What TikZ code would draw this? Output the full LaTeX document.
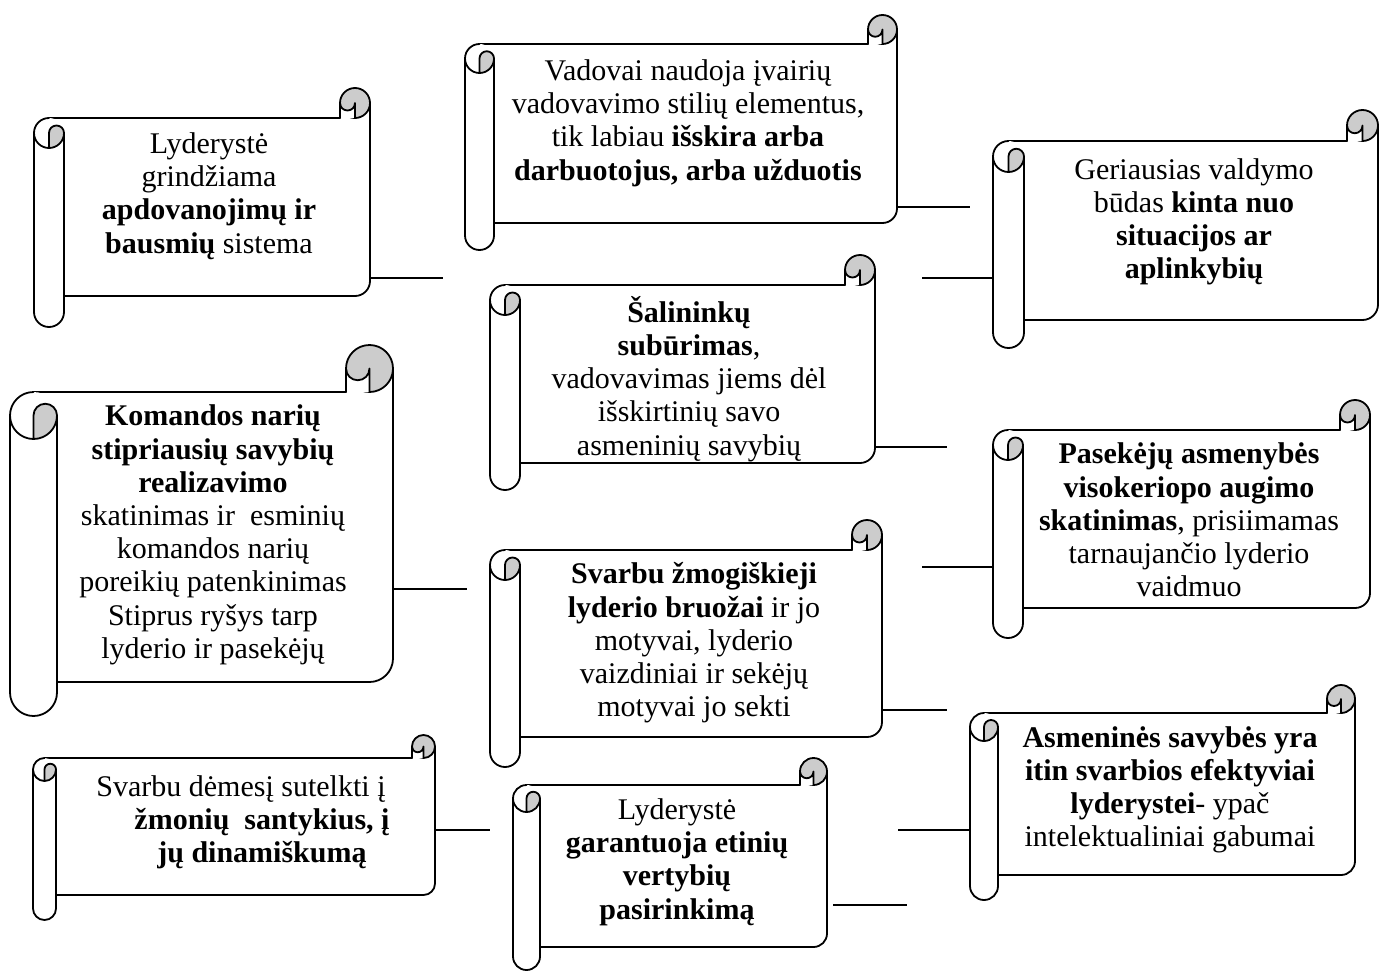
\documentclass[tikz,border=0pt]{standalone}
\usepackage{fontspec}
\setmainfont{Liberation Serif}
\definecolor{curlgray}{RGB}{204,204,204}
\tikzset{
  outline/.style={line width=1.8pt, line join=round, line cap=round},
  scrollbox/.style={draw=none, inner sep=0pt, outer sep=0pt},
  lbl/.style={inner sep=0pt, align=center, font=\fontsize{30}{33.2}\selectfont},
  link/.style={line width=1.8pt}
}
% vertical scroll: #1 name, #2 left, #3 top, #4 right, #5 body bottom, #6 roll bottom, #7 roll width
\newcommand\vscroll[7]{%
  \pgfmathsetmacro\sW{#4-#2}\pgfmathsetmacro\sH{#6-#3}%
  \pgfmathsetmacro\sh{#7/2}\pgfmathsetmacro\sq{#7/4}\pgfmathsetmacro\sc{#7}%
  \node[scrollbox, minimum width=\sW pt, minimum height=\sH pt] (#1) at ({(#2+#4)/2},{(#3+#6)/2}) {};
  % sheet
  \fill[white] (#2+\sh,#3+\sc) -- (#4,#3+\sc) -- (#4,#5-\sh)
     arc[start angle=0,end angle=90,radius=\sh] -- (#2+\sh,#5) -- cycle;
  % top right curl
  \filldraw[outline, fill=curlgray] (#4-\sh,#3+\sh) circle[radius=\sh];
  \filldraw[outline, fill=white] (#4-\sc,#3+\sc) -- (#4-\sc,#3+\sh)
     arc[start angle=180,end angle=0,radius=\sq] -- (#4-\sh,#3+\sc);
  % sheet outline
  \draw[outline] (#2+\sh,#3+\sc) -- (#4-\sc,#3+\sc);
  \draw[outline] (#4,#3+\sh) -- (#4,#5-\sh)
     arc[start angle=0,end angle=90,radius=\sh] -- (#2+\sc,#5);
  % left roll
  \fill[white] (#2,#3+\sc+\sh) -- (#2,#6-\sh)
     arc[start angle=180,end angle=0,radius=\sh] -- (#2+\sc,#3+\sc+\sh)
     arc[start angle=0,end angle=-180,radius=\sh] -- cycle;
  \draw[outline] (#2+\sh,#3+\sc) arc[start angle=270,end angle=180,radius=\sh]
     -- (#2,#6-\sh) arc[start angle=180,end angle=0,radius=\sh] -- (#2+\sc,#3+\sc+\sh);
  \draw[outline] (#2,#3+\sc+\sh) arc[start angle=180,end angle=90,radius=\sh];
  \filldraw[outline, fill=curlgray] (#2+\sc,#3+\sc+\sh)
     arc[start angle=0,end angle=-180,radius=\sq] -- (#2+\sh,#3+2*\sc)
     arc[start angle=90,end angle=0,radius=\sh] -- cycle;
}
\begin{document}
\begin{tikzpicture}[x=1pt,y=-1pt]
\useasboundingbox[fill=white] (0,0) rectangle (1380,971);

% scrolls
\vscroll{s1}{34}{88}{370}{296}{327}{30}
\vscroll{s2}{465}{15}{897}{223}{250}{29}
\vscroll{s3}{993}{110}{1378}{320}{348}{31}
\vscroll{s4}{10}{345}{393}{682}{716}{47}
\vscroll{s5}{490}{255}{875}{463}{490}{30}
\vscroll{s6}{993}{400}{1370}{608}{638}{30}
\vscroll{s7}{490}{520}{882}{737}{767}{30}
\vscroll{s8}{33}{735}{435}{895}{920}{23}
\vscroll{s9}{513}{758}{827}{947}{970}{27}
\vscroll{s10}{970}{685}{1355}{875}{900}{28}

% texts
\node[lbl] (t1) at (209,196) {Lyderystė\\grindžiama\\\textbf{apdovanojimų ir}\\\textbf{bausmių} sistema};
\node[lbl] (t2) at (688,123) {Vadovai naudoja įvairių\\vadovavimo stilių elementus,\\tik labiau \textbf{išskira arba}\\\textbf{darbuotojus, arba užduotis}};
\node[lbl] (t3) at (1194,222) {Geriausias valdymo\\būdas \textbf{kinta nuo}\\\textbf{situacijos ar}\\\textbf{aplinkybių}};
\node[lbl] (t4) at (213,535) {\textbf{Komandos narių}\\\textbf{stipriausių savybių}\\\textbf{realizavimo}\\skatinimas ir\ \ esminių\\komandos narių\\poreikių patenkinimas\\Stiprus ryšys tarp\\lyderio ir pasekėjų};
\node[lbl] (t5) at (689,379) {\textbf{Šalininkų}\\\textbf{subūrimas},\\vadovavimas jiems dėl\\išskirtinių savo\\asmeninių savybių};
\node[lbl] (t6) at (1189,520) {\textbf{Pasekėjų asmenybės}\\\textbf{visokeriopo augimo}\\\textbf{skatinimas}, prisiimamas\\tarnaujančio lyderio\\vaidmuo};
\node[lbl] (t7) at (694,643) {\textbf{Svarbu žmogiškieji}\\\textbf{lyderio bruožai} ir jo\\motyvai, lyderio\\vaizdiniai ir sekėjų\\motyvai jo sekti};
\node[lbl] (t8) at (241,822) {Svarbu dėmesį sutelkti į\\\hspace*{42pt}\textbf{žmonių\ \ santykius, į}\\\hspace*{42pt}\textbf{jų dinamiškumą}};
\node[lbl] (t9) at (677,862) {Lyderystė\\\textbf{garantuoja etinių}\\\textbf{vertybių}\\\textbf{pasirinkimą}};
\node[lbl] (t10) at (1170,790) {\textbf{Asmeninės savybės yra}\\\textbf{itin svarbios efektyviai}\\\textbf{lyderystei}- ypač\\intelektualiniai gabumai};

% connecting strokes
\coordinate (e1) at (443,278);
\coordinate (e2) at (970,207);
\coordinate (e4) at (922,278);
\coordinate (e6) at (947,447);
\coordinate (e8) at (922,567);
\coordinate (e10) at (947,710);
\coordinate (e11) at (467,589);
\coordinate (e12) at (490,830);
\coordinate (e13) at (898,830);
\coordinate (e14a) at (833,905);
\coordinate (e14b) at (907,905);
\draw[link] (s1.east |- e1) -- (e1);
\draw[link] (s2.east |- e2) -- (e2);
\draw[link] (e4) -- (s3.west |- e4);
\draw[link] (s5.east |- e6) -- (e6);
\draw[link] (e8) -- (s6.west |- e8);
\draw[link] (s7.east |- e10) -- (e10);
\draw[link] (s4.east |- e11) -- (e11);
\draw[link] (s8.east |- e12) -- (e12);
\draw[link] (e13) -- (s10.west |- e13);
\draw[link] (e14a) -- (e14b);
\end{tikzpicture}
\end{document}
